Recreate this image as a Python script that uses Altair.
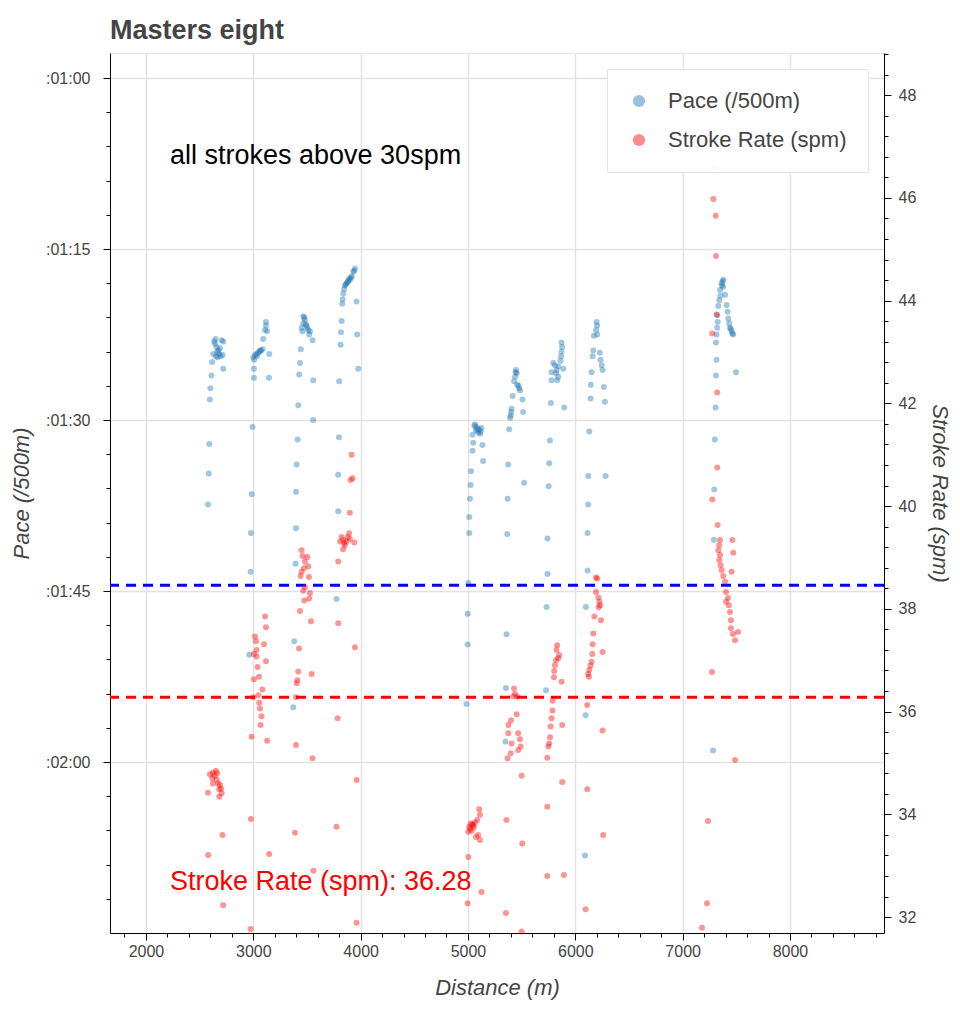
import altair as alt
import pandas as pd

# ---------------- data ----------------
# Pace points: distance (m) and pace (seconds per 500 m)
pace_distance = [
    2578, 2585, 2590, 2595, 2600, 2610, 2617, 2720, 2636, 2643, 2659, 2674, 2683, 2705, 2720, 2714, 2627, 2652, 2664, 2689, 2648, 2668, 2695,
    3118, 3118, 3109, 3128, 3092, 3001, 3016, 3030, 3044, 3058, 3072, 3086, 3034, 3062, 3008, 3149, 3006, 3146, 3006, 2993, 2985, 2978, 2975, 2963,
    3466, 3481, 3466, 3450, 3496, 3511, 3528, 3521, 3552, 3443, 3435, 3428, 3558, 3419, 3558, 3413, 3404, 3398, 3398, 3394, 3381, 3372, 3474, 3488, 3503, 3458,
    3947, 3931, 3916, 3901, 3885, 3870, 3854, 3838, 3832, 3829, 3962, 3823, 3817, 3968, 3813, 3977, 3800, 3798, 3791, 3791, 3776, 3940, 3910, 3892, 3862, 3846, 3878,
    5059, 5079, 5104, 5126, 5095, 5074, 5112, 5042, 5048, 5135, 5042, 5141, 5028, 5025, 5019, 5012, 5012, 5003, 4997, 4997, 4987, 5066, 5088, 5118,
    5447, 5454, 5438, 5429, 5459, 5478, 5485, 5416, 5508, 5406, 5401, 5398, 5392, 5514, 5384, 5375, 5523, 5369, 5366, 5359, 5354, 5350, 5470, 5445,
    5794, 5810, 5841, 5888, 5779, 5820, 5841, 5831, 5779, 5871, 5877, 5871, 5773, 5897, 5764, 5757, 5751, 5741, 5741, 5732, 5727, 5868, 5862, 5826,
    6198, 6204, 6193, 6204, 6173, 6167, 6161, 6229, 6235, 6245, 6254, 6151, 6145, 6266, 6142, 6276, 6130, 6120, 6282, 6120, 6114, 6114, 6099, 6096, 6090,
    7372, 7363, 7378, 7348, 7395, 7341, 7410, 7332, 7419, 7322, 7425, 7434, 7441, 7456, 7471, 7326, 7322, 7316, 7310, 7316, 7310, 7497, 7307, 7300, 7294, 7291, 7283,
    7380, 7366, 7352, 7463, 7448,
]
pace_seconds = [
    97.4, 94.7, 92.1, 88.2, 87.2, 86.1, 84.9, 85.5, 83.1, 83.3, 83.6, 83.9, 84.2, 83.0, 83.1, 84.3, 84.2, 84.4, 84.0, 83.7, 82.9, 84.5, 84.4,
    81.4, 81.7, 82.1, 82.2, 82.9, 84.5, 84.3, 84.2, 84.1, 84.0, 83.9, 83.8, 84.4, 83.9, 84.7, 84.2, 85.5, 86.3, 86.3, 90.6, 96.5, 99.9, 103.3, 110.6,
    80.9, 81.2, 81.5, 81.9, 81.7, 82.1, 82.2, 82.5, 83.0, 83.8, 85.0, 86.0, 86.5, 88.7, 90.0, 91.7, 93.9, 96.3, 99.5, 102.6, 109.4, 115.2, 81.0, 81.6, 81.9, 82.2,
    76.7, 77.0, 77.4, 77.7, 77.8, 78.0, 78.2, 78.9, 79.4, 79.8, 79.6, 81.3, 82.3, 82.5, 83.4, 85.5, 86.6, 91.5, 94.8, 98.0, 105.7, 76.9, 77.5, 77.6, 78.1, 78.5, 77.9,
    90.5, 90.6, 90.8, 90.7, 91.1, 90.9, 91.2, 91.3, 92.0, 92.2, 92.7, 93.6, 94.5, 95.7, 96.9, 98.5, 99.9, 104.3, 107.0, 109.7, 114.9, 90.4, 90.8, 91.0,
    85.6, 85.9, 86.2, 86.6, 86.9, 87.2, 87.4, 87.9, 88.2, 89.0, 89.3, 89.6, 89.8, 89.3, 90.8, 93.9, 95.5, 96.9, 100.0, 108.8, 113.5, 118.2, 87.0, 85.8,
    85.0, 85.2, 85.3, 85.5, 85.8, 85.9, 86.2, 86.5, 86.5, 83.2, 83.6, 84.0, 88.5, 88.9, 91.8, 93.8, 95.8, 100.4, 103.5, 106.4, 113.7, 84.4, 84.8, 85.6,
    81.4, 81.7, 82.1, 82.5, 82.6, 83.9, 84.4, 84.1, 84.7, 85.2, 85.6, 85.8, 86.9, 87.1, 88.1, 88.4, 91.0, 94.9, 94.9, 97.4, 99.9, 103.2, 106.4, 115.9, 128.2,
    77.8, 78.0, 78.3, 78.6, 79.0, 79.5, 79.9, 80.0, 80.5, 80.8, 81.1, 81.5, 81.9, 82.2, 82.5, 81.4, 81.9, 82.5, 83.2, 84.7, 86.1, 85.8, 88.9, 91.7, 96.1, 100.5, 119.0,
    77.7, 78.2, 79.1, 82.4, 82.0,
]

# Stroke rate points: distance (m) and stroke rate (spm)
rate_distance = [
    2596, 2624, 2652, 2664, 2618, 2624, 2673, 2689, 2683, 2705, 2578, 2683, 2713, 2580, 2720, 2640, 2660, 2700,
    3109, 3118, 3016, 3025, 3100, 3031, 3006, 3031, 3118, 3040, 3006, 3053, 3085, 3046, 2999, 3055, 3062, 3077, 3068, 2984, 3129, 2978, 3148, 2975,
    3450, 3459, 3503, 3481, 3512, 3472, 3450, 3441, 3519, 3481, 3465, 3528, 3521, 3475, 3435, 3537, 3426, 3419, 3410, 3404, 3398, 3543, 3398, 3552, 3388, 3560,
    3915, 3924, 3906, 3899, 3822, 3837, 3868, 3893, 3853, 3808, 3837, 3940, 3791, 3791, 3947, 3785, 3962, 3775, 3962, 3880, 3845, 3900,
    5105, 5112, 5025, 5049, 5012, 5065, 5086, 5003, 5075, 5112, 5034, 5003, 5126, 4997, 5040, 5055, 5020, 5095,
    5429, 5438, 5459, 5422, 5454, 5401, 5376, 5468, 5376, 5485, 5406, 5491, 5468, 5398, 5369, 5500, 5359, 5506, 5354, 5500,
    5831, 5825, 5850, 5841, 5820, 5810, 5804, 5801, 5872, 5788, 5788, 5779, 5770, 5764, 5757, 5748, 5739, 5878, 5878, 5739, 5739, 5894,
    6193, 6204, 6193, 6215, 6224, 6230, 6218, 6177, 6239, 6167, 6161, 6254, 6158, 6151, 6142, 6130, 6120, 6127, 6111, 6254, 6111, 6260, 6096,
    7292, 7286, 7308, 7311, 7317, 7276, 7322, 7322, 7276, 7326, 7463, 7348, 7472, 7341, 7332, 7348, 7341, 7354, 7363, 7378, 7456, 7395, 7404,
    7404, 7422, 7431, 7441, 7450, 7450, 7469, 7516, 7488, 7273, 7488, 7236, 7227, 7180,
]
rate_spm = [
    34.78, 34.81, 34.85, 34.80, 34.70, 34.60, 34.60, 34.57, 34.49, 34.41, 34.42, 34.34, 33.60, 33.21, 32.23, 34.75, 34.68, 34.50,
    37.85, 37.64, 37.46, 37.37, 37.31, 37.20, 37.12, 37.07, 36.98, 36.87, 36.63, 36.68, 36.43, 36.32, 36.28, 36.17, 36.06, 35.91, 35.74, 35.51, 35.43, 33.91, 33.23, 31.77,
    39.14, 39.03, 39.01, 38.92, 38.83, 38.79, 38.72, 38.64, 38.62, 38.42, 38.35, 38.31, 38.20, 38.16, 37.96, 37.76, 37.23, 36.78, 36.61, 36.55, 36.28, 36.73, 35.35, 35.09, 33.64, 32.90,
    41.00, 40.54, 40.51, 39.87, 39.40, 39.34, 39.31, 39.47, 39.24, 39.31, 39.16, 39.29, 38.92, 37.72, 37.25, 35.87, 34.67, 33.76, 31.89, 39.40, 39.28, 39.36,
    34.10, 33.99, 33.82, 33.79, 33.76, 33.84, 33.89, 33.66, 33.56, 33.50, 33.68, 33.17, 32.49, 32.27, 33.80, 33.75, 33.72, 33.60,
    36.45, 36.34, 36.29, 36.30, 35.95, 35.83, 35.74, 35.58, 35.58, 35.46, 35.38, 35.32, 35.25, 35.19, 35.09, 34.75, 33.89, 33.43, 32.08, 31.72,
    37.29, 37.20, 37.10, 37.04, 37.00, 36.90, 36.79, 36.67, 36.58, 36.21, 36.02, 35.87, 35.71, 35.50, 35.38, 35.32, 35.10, 35.74, 34.63, 34.15, 32.80, 32.82,
    38.61, 38.59, 38.33, 38.22, 38.14, 38.07, 38.03, 37.85, 37.78, 37.52, 37.31, 37.16, 37.12, 36.97, 36.89, 36.81, 36.73, 36.68, 36.13, 35.63, 34.49, 33.60, 32.15,
    46.57, 45.98, 45.65, 44.87, 43.73, 43.36, 42.21, 40.75, 40.13, 39.63, 39.34, 39.34, 39.09, 39.24, 39.14, 39.05, 38.95, 38.85, 38.75, 38.64, 38.72, 38.53, 38.33,
    38.14, 38.21, 38.07, 37.94, 37.78, 37.62, 37.51, 37.55, 37.39, 36.77, 35.06, 33.87, 32.27, 31.79,
]

mean_pace = [104.5]
mean_rate = [36.28]

series_names = ["Pace (/500m)", "Stroke Rate (spm)"]
series_colors = ["#1f77b4", "#ff0000"]

note_top = ["all strokes above 30spm"]
note_bottom = ["Stroke Rate (spm): 36.28"]

x_major_ticks = [2000, 3000, 4000, 5000, 6000, 7000, 8000]
x_minor_ticks = [v for v in range(1800, 8801, 200) if v % 1000 != 0]
pace_major_ticks = [60, 75, 90, 105, 120]
pace_minor_ticks = [v for v in range(60, 136, 3) if v % 15 != 0]
rate_major_ticks = [32, 34, 36, 38, 40, 42, 44, 46, 48]
rate_minor_ticks = [round(32 + 0.4 * i, 1) for i in range(43) if i % 5 != 0]

x_domain = [1665, 8876]
pace_domain = [57.8, 135]
rate_domain = [31.69, 48.82]

# ---------------- tables ----------------
pace_df = pd.DataFrame({"dist": pace_distance, "pace": pace_seconds, "series": series_names[0]})
rate_df = pd.DataFrame({"dist": rate_distance, "rate": rate_spm, "series": series_names[1]})
pace_mean_df = pd.DataFrame({"pace": mean_pace})
rate_mean_df = pd.DataFrame({"rate": mean_rate})
top_note_df = pd.DataFrame({"dist": [2224], "pace": [67.5], "label": note_top})
bottom_note_df = pd.DataFrame({"dist": [2224], "rate": [32.53], "label": note_bottom})

FONT = "Liberation Sans"
GREY = "#444444"

x_scale = alt.Scale(domain=x_domain, nice=False, zero=False)
pace_scale = alt.Scale(domain=pace_domain, nice=False, zero=False, reverse=True)
rate_scale = alt.Scale(domain=rate_domain, nice=False, zero=False)
color_scale = alt.Scale(domain=series_names, range=series_colors)

major_style = dict(
    labelFont=FONT, labelFontSize=16, labelColor=GREY,
    titleFont=FONT, titleFontSize=22, titleFontStyle="italic", titleFontWeight="normal", titleColor=GREY,
    domainColor="black", tickColor="black", gridColor="#e2e2e2", gridWidth=1.5, labelFlush=False,
    tickSize=7, tickWidth=1,
)
minor_style = dict(
    labels=False, domain=False, grid=False, title=None, tickColor="black", tickSize=4, tickWidth=1,
)

x_axis = alt.Axis(values=x_major_ticks, format="d", title="Distance (m)", titlePadding=18,
                  labelPadding=3, orient="bottom", grid=True, **major_style)
x_axis_minor = alt.Axis(values=x_minor_ticks, orient="bottom", **minor_style)

pace_axis = alt.Axis(
    values=pace_major_ticks,
    labelExpr="':' + pad(toString(floor(datum.value / 60)), 2, '0', 'left') + ':' + pad(toString(datum.value % 60), 2, '0', 'left')",
    title="Pace (/500m)", titlePadding=12, labelPadding=13, orient="left", grid=True, **major_style,
)
pace_axis_minor = alt.Axis(values=pace_minor_ticks, orient="left", **minor_style)

rate_axis = alt.Axis(values=rate_major_ticks, format="d", title="Stroke Rate (spm)", titlePadding=12,
                     labelPadding=7, orient="right", grid=False, **major_style)
rate_axis_minor = alt.Axis(values=rate_minor_ticks, orient="right", **minor_style)

legend = alt.Legend(title=None)

# ---- pace side (left axis) ----
pace_points = alt.Chart(pace_df).mark_circle(size=36, opacity=0.42).encode(
    x=alt.X("dist:Q", scale=x_scale, axis=x_axis),
    y=alt.Y("pace:Q", scale=pace_scale, axis=pace_axis),
    color=alt.Color("series:N", scale=color_scale, legend=legend),
)
pace_minor = alt.Chart(pace_df).mark_circle(size=1, opacity=0).encode(
    x=alt.X("dist:Q", scale=x_scale, axis=x_axis_minor),
    y=alt.Y("pace:Q", scale=pace_scale, axis=pace_axis_minor),
)
pace_rule = alt.Chart(pace_mean_df).mark_rule(color="#0000ff", strokeDash=[10, 7], strokeWidth=3).encode(
    y=alt.Y("pace:Q", scale=pace_scale, axis=None),
)
pace_note = alt.Chart(top_note_df).mark_text(
    align="left", baseline="alphabetic", font=FONT, fontSize=27, color="black"
).encode(
    x=alt.X("dist:Q", scale=x_scale, axis=None),
    y=alt.Y("pace:Q", scale=pace_scale, axis=None),
    text="label:N",
)
pace_layer = alt.layer(pace_minor, pace_points, pace_rule, pace_note).resolve_axis(x="independent", y="independent")

# ---- stroke-rate side (right axis) ----
rate_points = alt.Chart(rate_df).mark_circle(size=36, opacity=0.42).encode(
    x=alt.X("dist:Q", scale=x_scale, axis=None),
    y=alt.Y("rate:Q", scale=rate_scale, axis=rate_axis),
    color=alt.Color("series:N", scale=color_scale, legend=legend),
)
rate_minor = alt.Chart(rate_df).mark_circle(size=1, opacity=0).encode(
    x=alt.X("dist:Q", scale=x_scale, axis=None),
    y=alt.Y("rate:Q", scale=rate_scale, axis=rate_axis_minor),
)
rate_rule = alt.Chart(rate_mean_df).mark_rule(color="#ff0000", strokeDash=[10, 7], strokeWidth=3).encode(
    y=alt.Y("rate:Q", scale=rate_scale, axis=None),
)
rate_note = alt.Chart(bottom_note_df).mark_text(
    align="left", baseline="alphabetic", font=FONT, fontSize=27, color="#ff0000"
).encode(
    x=alt.X("dist:Q", scale=x_scale, axis=None),
    y=alt.Y("rate:Q", scale=rate_scale, axis=None),
    text="label:N",
)
rate_layer = alt.layer(rate_minor, rate_points, rate_rule, rate_note).resolve_axis(y="independent")

chart = (
    alt.layer(pace_layer, rate_layer)
    .resolve_scale(y="independent")
    .resolve_axis(x="independent", y="independent")
    .properties(
        width=774,
        height=880,
        autosize=alt.AutoSizeParams(type="none"),
        padding={"left": 110, "top": 53, "right": 76, "bottom": 72},
        title=alt.TitleParams(
            "Masters eight", anchor="start", frame="group", font=FONT, fontSize=27,
            fontWeight="bold", color=GREY, offset=8,
        ),
    )
    .configure_view(stroke="#e5e5e5")
    .configure_legend(
        orient="top-right", offset=16, padding=21, rowPadding=17, labelLimit=400,
        fillColor="rgba(255,255,255,0.95)", strokeColor="#e5e5e5",
        labelFont=FONT, labelFontSize=22, labelColor=GREY, labelOffset=18,
        symbolType="circle", symbolSize=150, symbolOpacity=0.45, symbolStrokeWidth=0,
    )
)

chart.save("out.html", embed_options={"renderer": "svg", "actions": False})
